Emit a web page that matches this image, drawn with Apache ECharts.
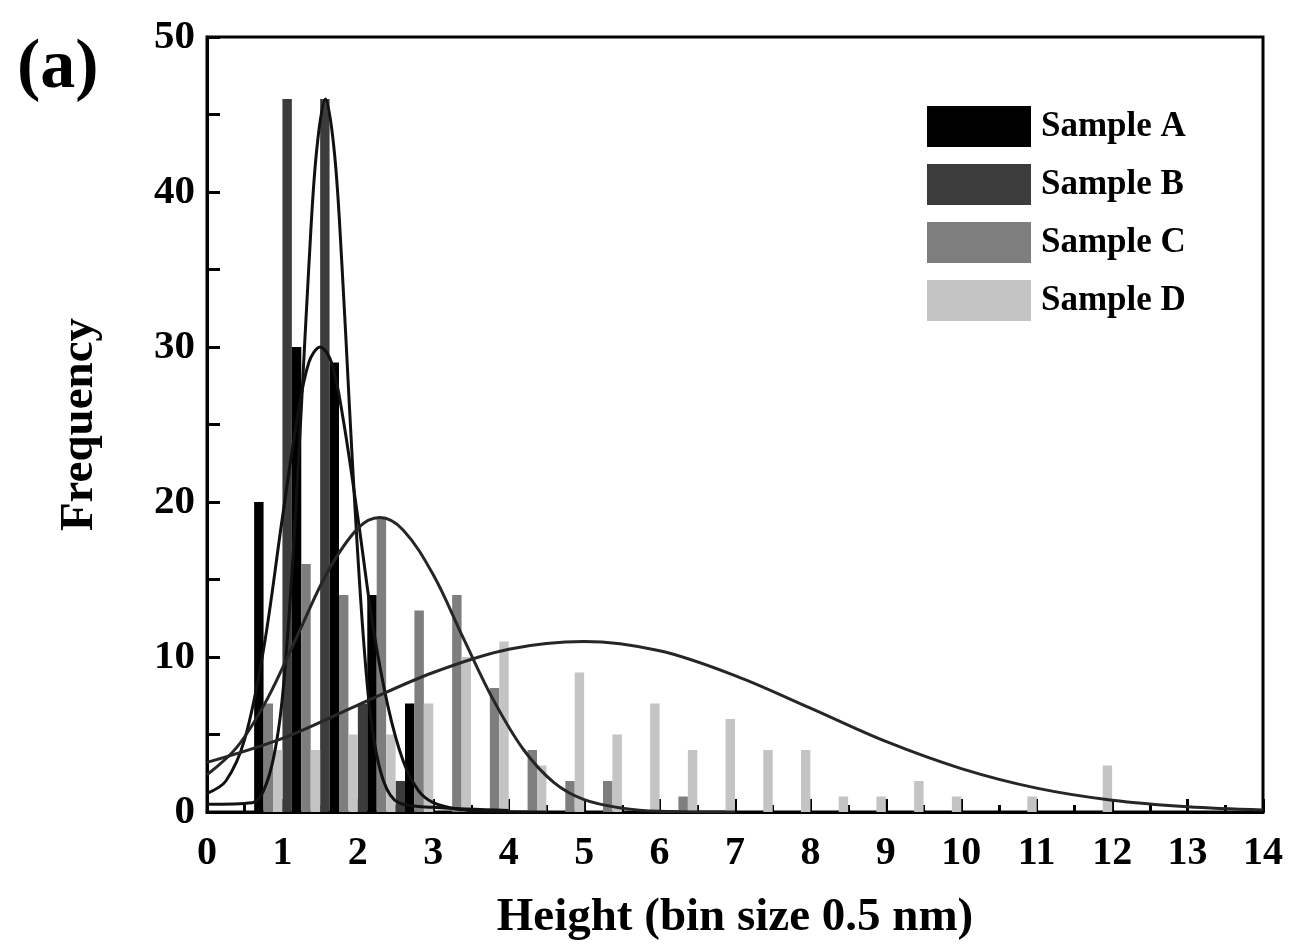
<!DOCTYPE html>
<html>
<head>
<meta charset="utf-8">
<script src="https://cdn.jsdelivr.net/npm/echarts@6/dist/echarts.min.js"></script>
<style>
  html, body { margin: 0; padding: 0; background: #fff; }
  #chart { width: 1292px; height: 944px; }
</style>
</head>
<body>
<div id="chart"></div>
<script>
// bins of 0.5 nm, 0 - 14
const bins = [];
for (let i = 0; i < 28; i++) bins.push((i * 0.5).toFixed(1));

// histogram counts per bin
const sampleA = [0, 20, 30, 29, 14, 7, 0, 0, 0, 0, 0, 0, 0, 0, 0, 0, 0, 0, 0, 0, 0, 0, 0, 0, 0, 0, 0, 0];
const sampleB = [0, 0, 46, 46, 7, 2, 0, 0, 0, 0, 0, 0, 0, 0, 0, 0, 0, 0, 0, 0, 0, 0, 0, 0, 0, 0, 0, 0];
const sampleC = [0, 7, 16, 14, 19, 13, 14, 8, 4, 2, 2, 0, 1, 0, 0, 0, 0, 0, 0, 0, 0, 0, 0, 0, 0, 0, 0, 0];
const sampleD = [0, 4, 4, 5, 5, 7, 10, 11, 3, 9, 5, 7, 4, 6, 4, 4, 1, 1, 2, 1, 0, 1, 0, 3, 0, 0, 0, 0];

// fitted curves, points
const fitAx = [0, 0.25, 0.5, 0.75, 1.0, 1.2, 1.35, 1.5, 1.65, 1.8, 2.0, 2.2, 2.4, 2.6, 2.8, 3.0, 3.3, 3.7, 4.5];
const fitAy = [1.2, 2.0, 4.7, 10.5, 19, 25.5, 29, 30, 29, 25.5, 19, 12, 6.8, 3.3, 1.4, 0.6, 0.2, 0.05, 0];
const fitBx = [0, 0.6, 0.8, 0.95, 1.05, 1.15, 1.25, 1.35, 1.45, 1.57, 1.69, 1.79, 1.89, 1.99, 2.09, 2.19, 2.34, 2.54, 3.0, 4.0];
const fitBy = [0.5, 0.6, 2.0, 5.4, 10.2, 17.3, 26, 35.2, 42.5, 46, 42.5, 35.2, 26, 17.3, 10.2, 5.4, 2.0, 0.6, 0.3, 0.1];
const fitCx = [0, 0.4, 0.8, 1.2, 1.6, 2.0, 2.29, 2.6, 3.0, 3.4, 3.8, 4.2, 4.6, 5.0, 5.5, 6.0, 7.0];
const fitCy = [2.4, 4.2, 7.3, 11.4, 15.5, 18.3, 19, 18.2, 15.3, 11.2, 7.2, 4.0, 1.9, 0.8, 0.25, 0.05, 0];
const fitDx = [0, 1, 2, 3, 4, 5, 6, 7, 8, 9, 10, 11, 12, 13, 14];
const fitDy = [3.2, 4.75, 6.9, 9.0, 10.5, 11, 10.4, 8.8, 6.7, 4.55, 2.8, 1.54, 0.76, 0.34, 0.13];

const serif = "'Liberation Serif', 'Times New Roman', serif";
const chart = echarts.init(document.getElementById('chart'));

function fit(xs, ys, color) {
    return {
        type: 'line',
        xAxisIndex: 1,
        data: xs.map((x, i) => [x, ys[i]]),
        smooth: 0.35,
        symbol: 'none',
        lineStyle: { color: color, width: 3 },
        z: 5,
        silent: true
    };
}

function bars(name, data, color) {
    return {
        name: name,
        type: 'bar',
        xAxisIndex: 0,
        data: data,
        barGap: '0%',
        barCategoryGap: '0%',
        itemStyle: { color: color },
        z: 2
    };
}

chart.setOption({
    animation: false,
    backgroundColor: '#fff',
    grid: {
        left: 207, top: 37, right: 29, bottom: 132,
        outerBoundsMode: 'none',
        show: true, borderColor: '#000', borderWidth: 3
    },
    graphic: [{
        type: 'text', left: 17, top: 34,
        style: { text: '(a)', font: 'bold 70px ' + serif, fill: '#000' }
    }],
    legend: {
        data: ['Sample A', 'Sample B', 'Sample C', 'Sample D'],
        orient: 'vertical',
        left: 922, top: 101,
        itemWidth: 104, itemHeight: 41, itemGap: 17,
        icon: 'rect',
        textStyle: { fontFamily: serif, fontWeight: 'bold', fontSize: 35, color: '#000', padding: [0, 0, 0, 5] }
    },
    xAxis: [
        {
            type: 'category',
            data: bins,
            show: false,
            boundaryGap: true
        },
        {
            type: 'value',
            min: 0, max: 14, interval: 1,
            position: 'bottom',
            axisLine: { show: true, lineStyle: { color: '#000', width: 3 } },
            axisTick: { show: true, inside: true, length: 13, lineStyle: { color: '#000', width: 3 } },
            minorTick: { show: true, splitNumber: 2, length: 7, lineStyle: { color: '#000', width: 3 } },
            splitLine: { show: false },
            axisLabel: { fontFamily: serif, fontWeight: 'bold', fontSize: 40, color: '#000', margin: 22 },
            name: 'Height (bin size 0.5 nm)',
            nameLocation: 'middle',
            nameGap: 82,
            nameTextStyle: { fontFamily: serif, fontWeight: 'bold', fontSize: 47, color: '#000' }
        }
    ],
    yAxis: {
        type: 'value',
        min: 0, max: 50, interval: 10,
        axisLine: { show: true, lineStyle: { color: '#000', width: 3 } },
        axisTick: { show: true, inside: true, length: 13, lineStyle: { color: '#000', width: 3 } },
        minorTick: { show: true, splitNumber: 2, length: 13, lineStyle: { color: '#000', width: 3 } },
        splitLine: { show: false },
        axisLabel: { fontFamily: serif, fontWeight: 'bold', fontSize: 41, color: '#000', margin: 12 },
        name: 'Frequency',
        nameLocation: 'middle',
        nameGap: 104,
        nameTextStyle: { fontFamily: serif, fontWeight: 'bold', fontSize: 47, color: '#000' }
    },
    series: [
        bars('Sample B', sampleB, '#3c3c3c'),
        bars('Sample A', sampleA, '#000000'),
        bars('Sample C', sampleC, '#7e7e7e'),
        bars('Sample D', sampleD, '#c4c4c4'),
        fit(fitAx, fitAy, '#111'),
        fit(fitBx, fitBy, '#111'),
        fit(fitCx, fitCy, '#262626'),
        fit(fitDx, fitDy, '#262626')
    ]
});

window.addEventListener('resize', function () {
    chart.resize();
});
</script>
</body>
</html>
